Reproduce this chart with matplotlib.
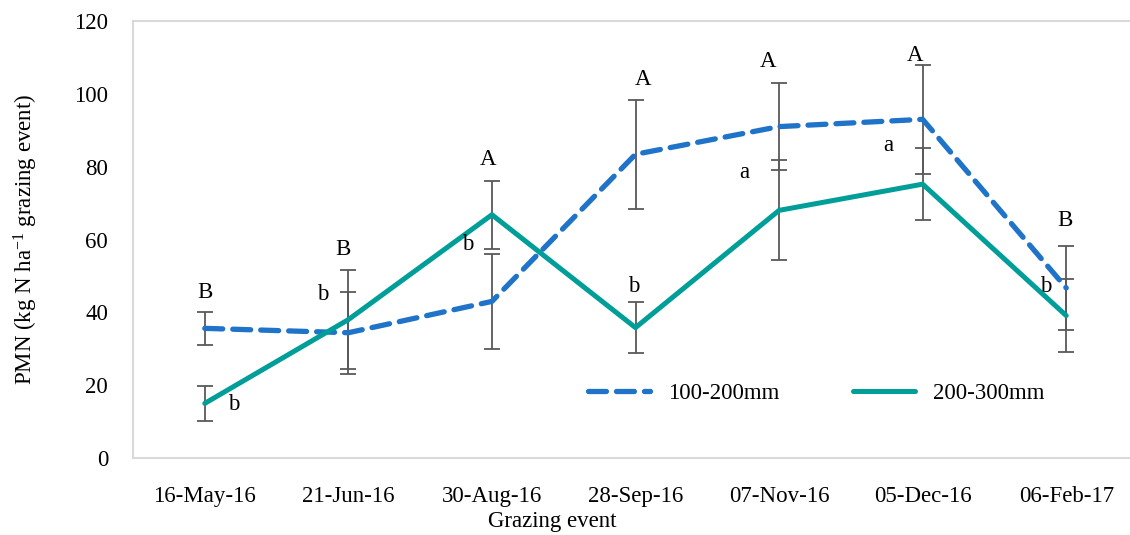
import matplotlib
matplotlib.use('Agg')
import matplotlib.pyplot as plt
import numpy as np

# data
events = ['16-May-16', '21-Jun-16', '30-Aug-16', '28-Sep-16', '07-Nov-16', '05-Dec-16', '06-Feb-17']
pmn_100_200 = [35.6, 34.4, 43.0, 83.4, 91.0, 93.0, 46.7]
err_100_200 = [4.5, 11.3, 13.0, 15.0, 12.0, 15.0, 11.5]
pmn_200_300 = [15.0, 38.0, 66.8, 35.8, 68.0, 75.2, 39.1]
err_200_300 = [4.8, 13.5, 9.4, 7.0, 13.7, 9.8, 10.0]

# significance letters (upper case: 100-200mm, lower case: 200-300mm)
upper_letters = ['B', 'B', 'A', 'A', 'A', 'A', 'B']
upper_pos = [(0.0, 45.4), (0.96, 57.3), (1.97, 82.0), (3.05, 103.8), (3.92, 109.0), (4.95, 110.4), (5.99, 65.2)]
lower_letters = ['b', 'b', 'b', 'b', 'a', 'a', 'b']
lower_pos = [(0.2, 14.6), (0.82, 44.9), (1.83, 58.6), (2.99, 47.2), (3.76, 78.4), (4.76, 85.7), (5.86, 47.0)]

plt.rcParams['font.family'] = ['Liberation Serif', 'DejaVu Serif']
plt.rcParams['mathtext.fontset'] = 'custom'
plt.rcParams['mathtext.rm'] = 'Liberation Serif'
plt.rcParams['mathtext.it'] = 'Liberation Serif:italic'

blue = '#1f73c9'
teal = '#009e99'
grey = '#595959'
fs = 16.5

fig = plt.figure(figsize=(11.3, 5.35), dpi=100)
ax = fig.add_axes([133 / 1130, 1 - 458 / 535, (1138 - 133) / 1130, (458 - 21) / 535])

x = np.arange(len(events))

ax.errorbar(x, pmn_100_200, yerr=err_100_200, fmt='none', ecolor=grey, elinewidth=1.3,
            capsize=6, capthick=1.3, zorder=2)
ax.errorbar(x, pmn_200_300, yerr=err_200_300, fmt='none', ecolor=grey, elinewidth=1.3,
            capsize=6, capthick=1.3, zorder=2)

l1, = ax.plot(x, pmn_100_200, color=blue, lw=3.8, linestyle=(0, (3.4, 1.9)),
              dash_capstyle='round', solid_capstyle='round', zorder=3, label='100-200mm')
l2, = ax.plot(x, pmn_200_300, color=teal, lw=3.6, solid_capstyle='round', zorder=3, label='200-300mm')

for s, (px, py) in zip(upper_letters, upper_pos):
    ax.text(px, py, s, ha='center', va='center', fontsize=fs, color='black', zorder=4)
for s, (px, py) in zip(lower_letters, lower_pos):
    ax.text(px, py, s, ha='center', va='center', fontsize=fs, color='black', zorder=4)

ax.set_xlim(-0.5, len(events) - 0.5)
ax.set_ylim(0, 120)
ax.set_yticks(range(0, 121, 20))
ax.set_xticks(x)
ax.set_xticklabels(events)
ax.tick_params(axis='both', length=0, labelsize=fs, colors='black')
ax.tick_params(axis='y', pad=18)
ax.tick_params(axis='x', pad=20)

for sp in ax.spines.values():
    sp.set_color('#d9d9d9')
    sp.set_linewidth(1.5)
ax.spines['right'].set_visible(False)

ax.set_ylabel(r'PMN (kg N ha$^{-1}$ grazing event)', fontsize=fs)
ax.yaxis.set_label_coords((40 - 133) / 1005, 0.5)
fig.text(552 / 1130, 1 - 522 / 535, 'Grazing event', ha='center', va='center', fontsize=fs)

fig.legend(handles=[l1, l2], loc='center left', bbox_to_anchor=(588 / 1130, 1 - 393 / 535),
           ncol=2, frameon=False, fontsize=fs, handlelength=2.7, handletextpad=0.8,
           columnspacing=3.2, borderpad=0, borderaxespad=0)

fig.savefig('out.png', dpi=100)
